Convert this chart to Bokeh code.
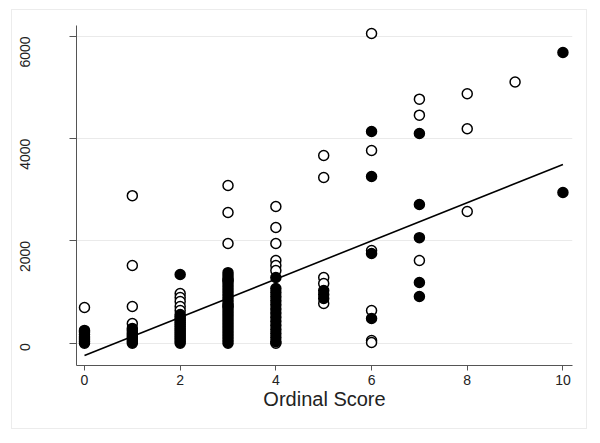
from bokeh.plotting import figure
from bokeh.embed import file_html
from bokeh.resources import INLINE
from bokeh.models import FixedTicker, Range1d
import math

# Open-circle series
open_x = [0,
          1, 1, 1, 1,
          2, 2, 2, 2, 2,
          3, 3, 3, 3, 3,
          4, 4, 4, 4, 4, 4, 4,
          5, 5, 5, 5, 5,
          6, 6, 6, 6, 6, 6,
          7, 7, 7,
          8, 8, 8,
          9]
open_y = [698,
          2886, 1520, 718, 385,
          972, 894, 816, 718, 640,
          3085, 2557, 1950, 1230, 730,
          2674, 2263, 1950, 1618, 1520, 1422, 0,
          3671, 3241, 1285, 1168, 776,
          6058, 3769, 1813, 640, 53, 14,
          4773, 4460, 1618,
          4880, 4195, 2576,
          5110]

# Filled-circle series
filled_x = [0, 0, 0, 0, 0, 0, 0,
            1, 1, 1, 1, 1, 1, 1, 1,
            2, 2, 2, 2, 2, 2, 2, 2, 2, 2, 2, 2, 2, 2, 2, 2,
            3, 3, 3, 3, 3, 3, 3, 3, 3, 3, 3, 3, 3, 3, 3, 3, 3, 3, 3, 3, 3, 3, 3, 3,
            4, 4, 4, 4, 4, 4, 4, 4, 4, 4, 4, 4, 4, 4, 4,
            5, 5, 5,
            6, 6, 6, 6,
            7, 7, 7, 7, 7,
            10, 10]
filled_y = [0, 40, 80, 120, 170, 220, 250,
            0, 40, 80, 120, 160, 200, 250, 290,
            1344, 0, 40, 80, 120, 160, 200, 240, 280, 320, 360, 400, 440, 480, 520, 560,
            0, 60, 120, 180, 240, 300, 360, 420, 480, 540, 600, 660, 720, 780, 840, 900, 960, 1020, 1080, 1140, 1200, 1260, 1320, 1380,
            1285, 1070, 990, 910, 830, 750, 670, 590, 510, 430, 350, 270, 190, 110, 30,
            1031, 953, 874,
            4141, 3261, 1755, 483,
            4101, 2713, 2065, 1187, 913,
            5686, 2947]

# Fitted line
fit_x = [0, 10]
fit_y = [-240, 3495]

x_ticks = [0, 2, 4, 6, 8, 10]
y_ticks = [0, 2000, 4000, 6000]

FONT = "Liberation Sans"

p = figure(width=574, height=418, output_backend="svg", toolbar_location=None,
           x_range=Range1d(-0.167, 10.2), y_range=Range1d(-436, 6214),
           min_border_left=63, min_border_right=14, min_border_top=15, min_border_bottom=63)
p.margin = (10, 0, 0, 12)
p.styles = {"outline": "1px solid #ececec"}
p.outline_line_color = None
p.background_fill_color = "white"
p.border_fill_color = "white"

p.xgrid.grid_line_color = None
p.ygrid.grid_line_color = "#eaeaea"
p.ygrid.grid_line_width = 1
p.ygrid.ticker = FixedTicker(ticks=y_ticks)

p.xaxis.ticker = FixedTicker(ticks=x_ticks)
p.yaxis.ticker = FixedTicker(ticks=y_ticks)
p.xaxis.minor_tick_line_color = None
p.yaxis.minor_tick_line_color = None

for ax in (p.xaxis, p.yaxis):
    ax.axis_line_color = "#555555"
    ax.major_tick_line_color = "#555555"
    ax.major_label_text_font = FONT
    ax.major_label_text_font_size = "14px"
    ax.major_label_text_color = "#222222"

p.xaxis.major_tick_out = 5
p.xaxis.major_tick_in = 0
p.xaxis.major_label_standoff = 4
p.xaxis.axis_label = "Ordinal Score"
p.xaxis.axis_label_text_font = FONT
p.xaxis.axis_label_text_font_size = "20px"
p.xaxis.axis_label_text_font_style = "normal"
p.xaxis.axis_label_text_color = "#222222"
p.xaxis.axis_label_standoff = 0

p.yaxis.major_tick_out = 7
p.yaxis.major_tick_in = 0
p.yaxis.major_label_orientation = math.pi / 2
p.yaxis.major_label_standoff = 44

p.scatter(open_x, open_y, marker="circle", size=10, fill_color="white",
          line_color="black", line_width=1.5)
p.scatter(filled_x, filled_y, marker="circle", size=10, fill_color="black",
          line_color="black", line_width=1.5)
p.line(fit_x, fit_y, line_color="black", line_width=1.6)

open("out.html", "w").write(file_html(p, INLINE))
